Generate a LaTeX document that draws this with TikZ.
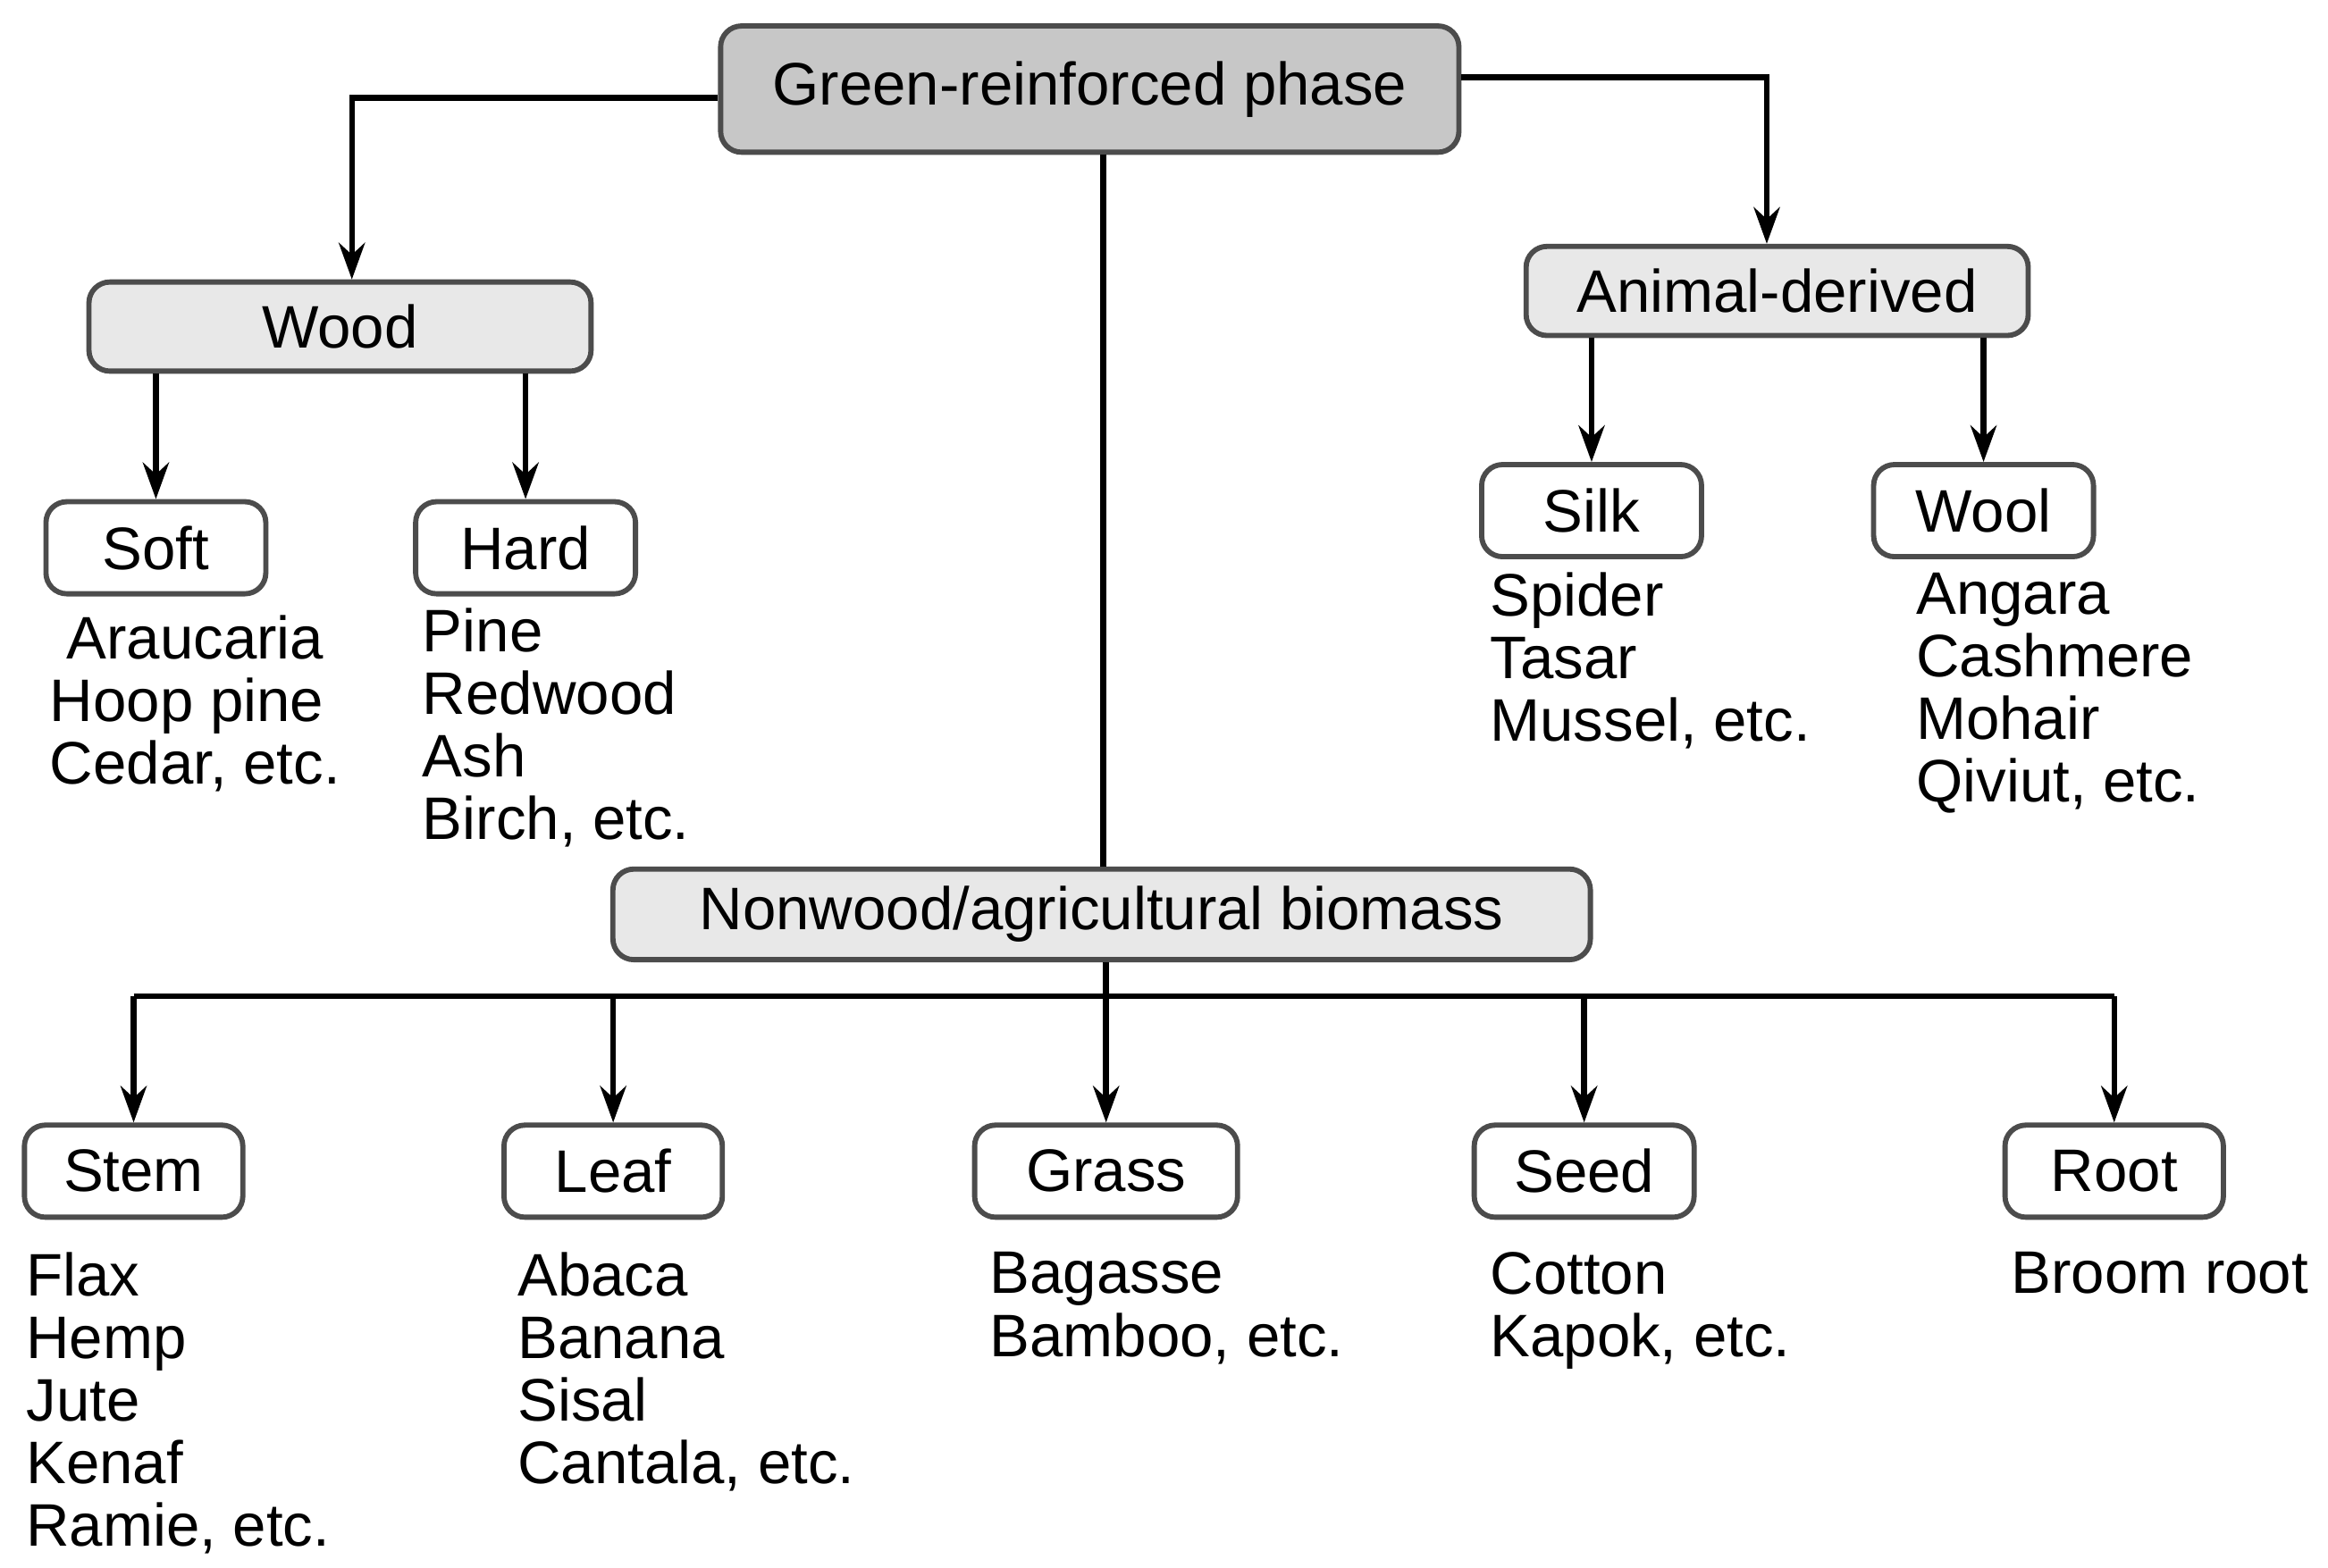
\documentclass[tikz,border=0pt]{standalone}
\usepackage{fontspec}
\setmainfont{Liberation Sans}
\usetikzlibrary{arrows.meta}
\begin{document}
\begin{tikzpicture}[x=0.01cm,y=-0.01cm,
  box/.style={draw=black!70,line width=1pt,rounded corners=4pt,inner sep=0pt,font=\fontsize{11.5}{14}\selectfont},
  lst/.style={anchor=north west,align=left,inner sep=0pt,font=\fontsize{11.5}{12}\selectfont},
  con/.style={line width=1.1pt},
  arr/.style={con,-{Stealth[length=7pt,width=5pt]}}]
\useasboundingbox (0,0) rectangle (1568,1056);
\node[box,fill=black!22,minimum width=4.97cm,minimum height=0.85cm] (g) at (734,60) {Green-reinforced phase};
\node[box,fill=black!9,minimum width=3.38cm,minimum height=0.6cm] (wood) at (229,220) {Wood};
\node[box,fill=black!9,minimum width=3.38cm,minimum height=0.6cm] (ani) at (1197,196) {Animal-derived};
\node[box,fill=white,minimum width=1.48cm,minimum height=0.62cm] (soft) at (105,369) {Soft};
\node[box,fill=white,minimum width=1.48cm,minimum height=0.62cm] (hard) at (354,369) {Hard};
\node[box,fill=white,minimum width=1.48cm,minimum height=0.62cm] (silk) at (1072,344) {Silk};
\node[box,fill=white,minimum width=1.48cm,minimum height=0.62cm] (wool) at (1336,344) {Wool};
\node[box,fill=black!9,minimum width=6.58cm,minimum height=0.61cm] (nw) at (742,616) {Nonwood/agricultural biomass};
\node[box,fill=white,minimum width=1.47cm,minimum height=0.62cm] (stem) at (90,789) {Stem};
\node[box,fill=white,minimum width=1.47cm,minimum height=0.62cm] (leaf) at (413,789) {Leaf};
\node[box,fill=white,minimum width=1.77cm,minimum height=0.62cm] (grass) at (745,789) {Grass};
\node[box,fill=white,minimum width=1.48cm,minimum height=0.62cm] (seed) at (1067,789) {Seed};
\node[box,fill=white,minimum width=1.47cm,minimum height=0.62cm] (root) at (1424,789) {Root};
\coordinate (bl) at (90,671);
\coordinate (br) at (1424,671);
\draw[arr] (g.west |- 0,66) -| (wood.north -| 237,0);
\draw[arr] (g.east |- 0,52) -| (ani.north -| 1190,0);
\draw[con] (g.south -| 743,0) -- (nw.north -| 743,0);
\draw[arr] (wood.south -| soft) -- (soft.north);
\draw[arr] (wood.south -| hard) -- (hard.north);
\draw[arr] (ani.south -| silk) -- (silk.north);
\draw[arr] (ani.south -| wool) -- (wool.north);
\draw[con] (bl) -- (br);
\draw[arr] (nw.south -| grass) -- (grass.north);
\draw[arr] (bl) -- (stem.north);
\draw[arr] (leaf |- bl) -- (leaf.north);
\draw[arr] (seed |- bl) -- (seed.north);
\draw[arr] (br) -- (root.north);
\node[lst] (ls) at (33,414) {\ Araucaria\\Hoop pine\\Cedar, etc.};
\node[lst] (lh) at (284,409) {Pine\\Redwood\\Ash\\Birch, etc.};
\node[lst] (lsi) at (1003,385) {Spider\\Tasar\\Mussel, etc.};
\node[lst] (lw) at (1290,385) {Angara\\Cashmere\\Mohair\\Qiviut, etc.};
\node[lst] (lst) at (17,843) {Flax\\Hemp\\Jute\\Kenaf\\Ramie, etc.};
\node[lst] (ll) at (348,843) {Abaca\\Banana\\Sisal\\Cantala, etc.};
\node[lst] (lg) at (666,843) {Bagasse\\Bamboo, etc.};
\node[lst] (lse) at (1003,843) {Cotton\\Kapok, etc.};
\node[lst] (lr) at (1354,843) {Broom root};
\end{tikzpicture}
\end{document}
